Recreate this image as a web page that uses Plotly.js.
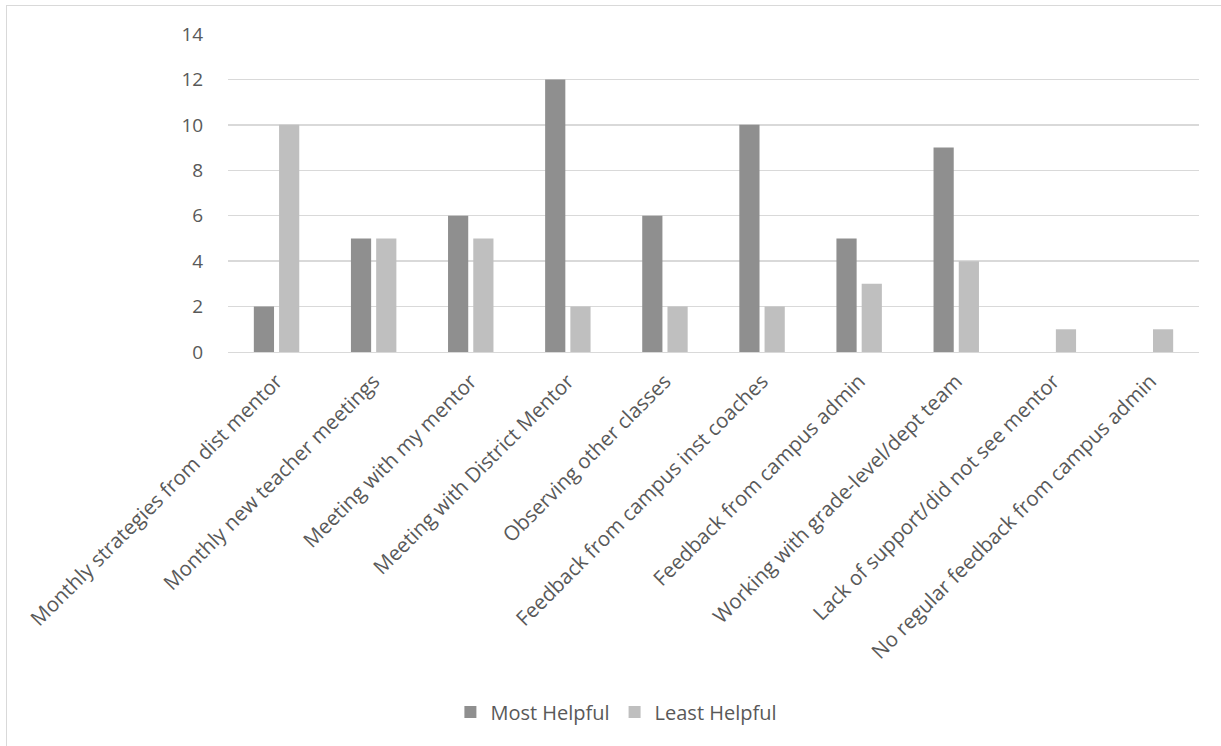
<!DOCTYPE html>
<html>
<head>
<meta charset="utf-8">
<script src="https://cdn.plot.ly/plotly-3.0.1.min.js"></script>
<style>
  html, body { margin: 0; padding: 0; background: #fff; }
  #wrap { position: relative; width: 1221px; height: 746px; overflow: hidden; }
  #frame { position: absolute; left: 6px; top: 5px; width: 1400px; height: 900px; border: 1px solid #d9d9d9; box-sizing: border-box; }
  #chart { position: absolute; left: 0; top: 0; width: 1221px; height: 746px; }
</style>
</head>
<body>
<div id="wrap">
  <div id="frame"></div>
  <div id="chart"></div>
</div>
<script>
const categories = [
  "Monthly strategies from dist mentor",
  "Monthly new teacher meetings",
  "Meeting with my mentor",
  "Meeting with District Mentor",
  "Observing other classes",
  "Feedback from campus inst coaches",
  "Feedback from campus admin",
  "Working with grade-level/dept team",
  "Lack of support/did not see mentor",
  "No regular feedback from campus admin"
];
const mostHelpful = [2, 5, 6, 12, 6, 10, 5, 9, 0, 0];
const leastHelpful = [10, 5, 5, 2, 2, 2, 3, 4, 1, 1];
const seriesNames = ["Most Helpful", "Least Helpful"];
const yTicks = [0, 2, 4, 6, 8, 10, 12, 14];

const FONT = "'Open Sans', Calibri, Lato, sans-serif";

const data = [
  { type: "bar", name: seriesNames[0], x: categories, y: mostHelpful,
    marker: { color: "#8f8f8f" }, hoverinfo: "x+y" },
  { type: "bar", name: seriesNames[1], x: categories, y: leastHelpful,
    marker: { color: "#bfbfbf" }, hoverinfo: "x+y" }
];

const layout = {
  width: 1221, height: 746,
  paper_bgcolor: "rgba(0,0,0,0)",
  plot_bgcolor: "rgba(0,0,0,0)",
  margin: { l: 228, r: 22, t: 34, b: 394, pad: 0 },
  barmode: "group",
  bargap: 0.48,
  bargroupgap: 0.2,
  font: { family: FONT, size: 18, color: "#595959" },
  xaxis: {
    type: "category",
    tickangle: -45,
    tickfont: { family: FONT, size: 20.5, color: "#595959" },
    showgrid: false,
    showline: true, linecolor: "#d9d9d9", linewidth: 1.3,
    ticks: "outside", ticklen: 8, tickcolor: "rgba(0,0,0,0)",
    automargin: false
  },
  yaxis: {
    range: [0, 14],
    tickvals: yTicks,
    ticktext: yTicks.map(String),
    tickfont: { family: FONT, size: 19, color: "#595959" },
    showgrid: true, gridcolor: "#d9d9d9", gridwidth: 1.3,
    zeroline: false,
    showline: false,
    ticks: "outside", ticklen: 20, tickcolor: "rgba(0,0,0,0)",
    automargin: false
  },
  showlegend: true,
  legend: {
    orientation: "h",
    x: 0.40, xanchor: "center",
    y: -1.132, yanchor: "middle",
    font: { family: FONT, size: 20, color: "#595959" },
    traceorder: "normal",
    itemwidth: 30
  }
};

Plotly.newPlot("chart", data, layout, { displayModeBar: false, staticPlot: true });
</script>
</body>
</html>
